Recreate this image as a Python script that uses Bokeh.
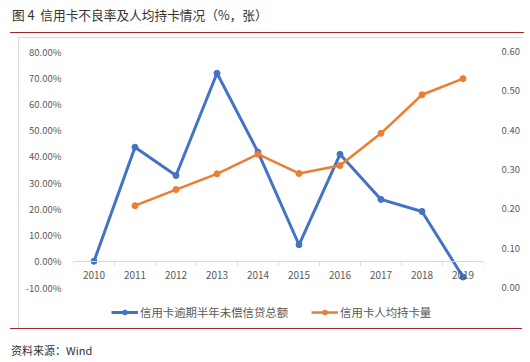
from bokeh.plotting import figure
from bokeh.layouts import column, row
from bokeh.models import (Range1d, LinearAxis, FixedTicker, NumeralTickFormatter,
                          Legend, LegendItem, Div)
from bokeh.embed import file_html
from bokeh.resources import INLINE

# ---- data ----
years = [2010, 2011, 2012, 2013, 2014, 2015, 2016, 2017, 2018, 2019]
npl_rate = [0.0, 0.435, 0.327, 0.717, 0.416, 0.063, 0.408, 0.236, 0.19, -0.06]
card_years = [2011, 2012, 2013, 2014, 2015, 2016, 2017, 2018, 2019]
cards_per_person = [0.208, 0.249, 0.289, 0.339, 0.29, 0.31, 0.392, 0.49, 0.531]
left_ticks = [-0.1, 0.0, 0.1, 0.2, 0.3, 0.4, 0.5, 0.6, 0.7, 0.8]
right_ticks = [0.0, 0.1, 0.2, 0.3, 0.4, 0.5, 0.6]
series_names = ["信用卡逾期半年未偿信贷总额", "信用卡人均持卡量"]
title_text = "图 4&nbsp;&nbsp;信用卡不良率及人均持卡情况（%，张）"
source_text = "资料来源：Wind"

FONT = "Noto Sans CJK SC"
TICK_COLOR = "#595959"
BLUE = "#4472C4"
ORANGE = "#ED7D31"
RED = "#a0252b"
GRAY = "#d9d9d9"

# ---- title block with red rule and top edge of chart border ----
title_div = Div(
    text=(f'<div style="width:512px;height:24px;padding-top:8px;'
          f'border-bottom:1.5px solid {RED};font-family:\'{FONT}\';'
          f'font-size:12.7px;line-height:14px;color:#333333;padding-left:2px;'
          f'box-sizing:content-box;white-space:nowrap;">{title_text}</div>'
          f'<div style="margin-left:8px;margin-top:3.5px;width:504px;height:0;'
          f'border-top:1px solid {GRAY};"></div>'),
    width=512, height=38, margin=(0, 0, 0, 10), styles={"overflow": "visible"})

# ---- main chart ----
p = figure(width=503, height=268, output_backend="svg", toolbar_location=None,
           x_range=Range1d(years[0] - 0.5, years[-1] + 0.5),
           y_range=Range1d(left_ticks[0], left_ticks[-1]),
           x_axis_type=None, y_axis_type=None,
           min_border_left=54, min_border_right=39,
           min_border_top=13, min_border_bottom=19)
p.outline_line_color = None
p.background_fill_color = "white"
p.border_fill_color = "white"
p.extra_y_ranges = {"right": Range1d(right_ticks[0], right_ticks[-1])}

yl = LinearAxis(ticker=FixedTicker(ticks=left_ticks),
                formatter=NumeralTickFormatter(format="0.00%"),
                axis_line_color=None, major_tick_line_color=None,
                minor_tick_line_color=None, major_label_standoff=6,
                major_label_text_font=FONT, major_label_text_font_size="9.5px",
                major_label_text_color=TICK_COLOR)
p.add_layout(yl, "left")

yr = LinearAxis(y_range_name="right", ticker=FixedTicker(ticks=right_ticks),
                formatter=NumeralTickFormatter(format="0.00"),
                axis_line_color=None, major_tick_line_color=None,
                minor_tick_line_color=None, major_label_standoff=12,
                major_label_text_font=FONT, major_label_text_font_size="9.5px",
                major_label_text_color=TICK_COLOR)
p.add_layout(yr, "right")

boundaries = [y - 0.5 for y in years] + [years[-1] + 0.5]
xa = LinearAxis(ticker=FixedTicker(ticks=years, minor_ticks=boundaries),
                fixed_location=0,
                axis_line_color=GRAY, axis_line_width=1,
                major_tick_line_color=None, major_tick_out=0, major_tick_in=0,
                minor_tick_line_color=GRAY, minor_tick_out=4, minor_tick_in=0,
                major_label_standoff=6,
                major_label_text_font=FONT, major_label_text_font_size="10px",
                major_label_text_color=TICK_COLOR)
p.add_layout(xa, "below")

p.line(years, npl_rate, line_color=BLUE, line_width=3)
p.scatter(years, npl_rate, size=6, fill_color=BLUE, line_color=BLUE)
p.line(card_years, cards_per_person, y_range_name="right",
       line_color=ORANGE, line_width=2.5)
p.scatter(card_years, cards_per_person, y_range_name="right",
          size=6, fill_color=ORANGE, line_color=ORANGE)

# ---- legend strip: same series and styles, view range kept off the data ----
lf = figure(width=503, height=26, output_backend="svg", toolbar_location=None,
            x_axis_type=None, y_axis_type=None,
            x_range=Range1d(0, 1), y_range=Range1d(0, 1), min_border=0,
            margin=(-4, 0, 0, 0))
lf.outline_line_color = None
l1 = lf.line(years, npl_rate, line_color=BLUE, line_width=3)
m1 = lf.scatter(years, npl_rate, size=6, fill_color=BLUE, line_color=BLUE)
l2 = lf.line(card_years, cards_per_person, line_color=ORANGE, line_width=2.5)
m2 = lf.scatter(card_years, cards_per_person, size=6,
                fill_color=ORANGE, line_color=ORANGE)
legend = Legend(items=[LegendItem(label=series_names[0], renderers=[l1, m1]),
                       LegendItem(label=series_names[1], renderers=[l2, m2])],
                orientation="horizontal", location=(38, 8),
                padding=0, margin=0, spacing=23, label_standoff=2,
                glyph_width=27, glyph_height=12, label_height=12,
                border_line_color=None, background_fill_alpha=0,
                label_text_font=FONT, label_text_font_size="11.4px",
                label_text_color=TICK_COLOR)
lf.add_layout(legend, "center")

vline = Div(text="", width=1, height=290, margin=(0, 0, 0, 18),
            styles={"background-color": GRAY})

# ---- source block with red rule ----
source_div = Div(
    text=(f'<div style="width:512px;border-top:1.5px solid {RED};padding-top:15px;'
          f'font-family:\'{FONT}\';font-size:11px;line-height:12px;'
          f'color:#333333;padding-left:1px;white-space:nowrap;">{source_text}</div>'),
    width=512, height=26, margin=(0, 0, 0, 10), styles={"overflow": "visible"})

layout = column(title_div,
                row(vline, column(p, lf, spacing=0), spacing=0),
                source_div, spacing=0)
open("out.html", "w").write(file_html(layout, INLINE))
